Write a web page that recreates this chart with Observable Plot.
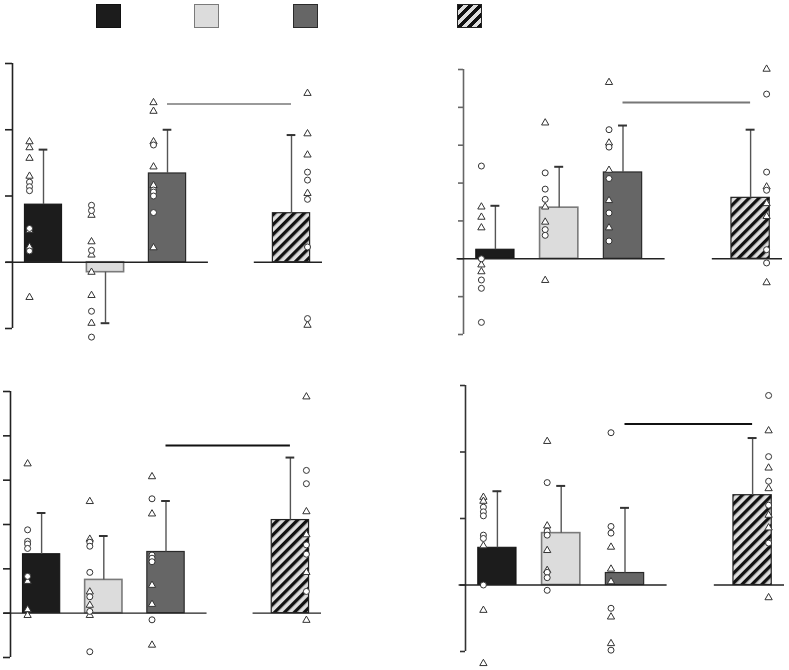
<!DOCTYPE html>
<html>
<head>
<meta charset="utf-8">
<script src="https://cdn.jsdelivr.net/npm/d3@7"></script>
<script src="https://cdn.jsdelivr.net/npm/@observablehq/plot@0.6"></script>
<style>
  html, body { margin: 0; padding: 0; background: #fff; }
  #root { position: relative; width: 789px; height: 670px; overflow: hidden; font-family: "DejaVu Sans", sans-serif; }
  .panel { position: absolute; }
  .key { position: absolute; top: 4px; width: 25px; height: 24px; box-sizing: border-box; }
</style>
</head>
<body>
<div id="root"></div>
<script>
// ---------------- DATA ----------------
const groups = ["g1", "g2", "g3", "g4"];

// Panel A (top-left)
const aMeans = [0.87, -0.15, 1.34, 0.74];
const aErrors = [0.83, 0.77, 0.66, 1.18];
const aSig = 2.39;
const aTicks = [-1, 0, 1, 2, 3];
const aTriangles = [
  [1.82, 1.73, 1.57, 1.30, 0.48, 0.23, -0.53],
  [0.71, 0.31, 0.11, -0.15, -0.50, -0.92],
  [2.41, 2.28, 1.82, 1.44, 1.16, 0.22],
  [2.55, 1.94, 1.62, 1.04, -0.95]
];
const aCircles = [
  [1.21, 1.14, 1.08, 0.51, 0.17],
  [0.86, 0.78, 0.18, -0.74, -1.13],
  [1.77, 1.09, 1.06, 1.00, 0.75],
  [1.36, 1.24, 0.95, 0.23, -0.85]
];

// Panel B (top-right)
const bMeans = [0.24, 1.35, 2.28, 1.61];
const bErrors = [1.16, 1.08, 1.24, 1.80];
const bSig = 4.13;
const bTicks = [-2, -1, 0, 1, 2, 3, 4, 5];
const bTriangles = [
  [1.37, 1.10, 0.82, -0.16, -0.34],
  [3.59, 1.37, 0.97, -0.57],
  [4.66, 3.06, 2.34, 1.54, 0.82],
  [5.01, 1.90, 1.46, 1.12, -0.63]
];
const bCircles = [
  [2.45, 0.00, -0.56, -0.78, -1.68],
  [2.27, 1.84, 1.57, 0.77, 0.62],
  [3.41, 2.95, 2.12, 1.21, 0.47],
  [4.35, 2.29, 1.81, 0.24, -0.11]
];

// Panel C (bottom-left)
const cMeans = [1.33, 0.75, 1.38, 2.10];
const cErrors = [0.93, 0.99, 1.15, 1.41];
const cSig = 3.78;
const cTicks = [-1, 0, 1, 2, 3, 4, 5];
const cTriangles = [
  [3.37, 0.72, 0.08, -0.05],
  [2.52, 1.67, 0.48, 0.18, -0.05],
  [3.08, 2.24, 0.63, 0.20, -0.72],
  [4.88, 2.29, 1.77, 0.92, -0.16]
];
const cCircles = [
  [1.88, 1.62, 1.56, 1.46, 0.83],
  [1.60, 1.51, 0.92, 0.37, 0.04, -0.87],
  [2.58, 1.31, 1.24, 1.16, -0.15],
  [3.22, 2.92, 1.54, 1.33, 0.49]
];

// Panel D (bottom-right)
const dMeans = [0.56, 0.78, 0.18, 1.35];
const dErrors = [0.85, 0.71, 0.98, 0.86];
const dSig = 2.42;
const dTicks = [-1, 0, 1, 2, 3];
const dTriangles = [
  [1.32, 1.26, 0.59, -0.38, -1.18],
  [2.16, 0.89, 0.52, 0.22],
  [0.57, 0.24, 0.05, -0.48, -0.88],
  [2.32, 1.76, 1.45, 1.05, 0.86, -0.19]
];
const dCircles = [
  [1.17, 1.10, 1.04, 0.75, 0.70, 0.00],
  [1.54, 0.81, 0.75, 0.19, 0.11, -0.08],
  [2.29, 0.88, 0.78, -0.35, -0.98],
  [2.85, 1.93, 1.56, 1.20, 0.63]
];

// ---------------- STYLES ----------------
const barStyles = [
  { fill: "#1c1c1c", stroke: "#111", strokeWidth: 1 },
  { fill: "#dcdcdc", stroke: "#7a7a7a", strokeWidth: 1.6 },
  { fill: "#666666", stroke: "#2a2a2a", strokeWidth: 1.2 },
  { fill: "HATCH", stroke: "#222", strokeWidth: 1.2 }
];

const layouts = [
  { left: 0,   top: 40,  width: 400, height: 300, ml: 12, mr: 78, mt: 23, mb: 12, axis: "#222", tick: 7, sigColor: "#9a9a9a" },
  { left: 400, top: 40,  width: 389, height: 300, ml: 63, mr: 7,  mt: 29, mb: 6,  axis: "#666", tick: 5, sigColor: "#777" },
  { left: 0,   top: 360, width: 400, height: 310, ml: 10, mr: 79, mt: 31, mb: 13, axis: "#222", tick: 7, sigColor: "#111" },
  { left: 400, top: 360, width: 389, height: 310, ml: 65, mr: 5,  mt: 25, mb: 19, axis: "#333", tick: 5, sigColor: "#111" }
];

const panels = [
  { means: aMeans, errors: aErrors, sig: aSig, ticks: aTicks, tri: aTriangles, circ: aCircles },
  { means: bMeans, errors: bErrors, sig: bSig, ticks: bTicks, tri: bTriangles, circ: bCircles },
  { means: cMeans, errors: cErrors, sig: cSig, ticks: cTicks, tri: cTriangles, circ: cCircles },
  { means: dMeans, errors: dErrors, sig: dSig, ticks: dTicks, tri: dTriangles, circ: dCircles }
];

// group slot on the x axis: three adjacent groups, a gap, then the fourth
const slot = groups.map((g, i) => i + 1 + (i === 3 ? 1 : 0));
const half = 0.3;

const root = document.getElementById("root");

function addHatch(svg, id) {
  const defs = d3.select(svg).insert("defs", ":first-child");
  const p = defs.append("pattern")
    .attr("id", id)
    .attr("patternUnits", "userSpaceOnUse")
    .attr("width", 7).attr("height", 7)
    .attr("patternTransform", "rotate(45)");
  p.append("rect").attr("width", 7).attr("height", 7).attr("fill", "#dddddd");
  p.append("rect").attr("width", 3.3).attr("height", 7).attr("fill", "#111");
}

panels.forEach((P, k) => {
  const L = layouts[k];
  const hatchId = "hatch" + k;
  const bars = groups.map((g, i) => ({
    group: g, i, pos: slot[i], mean: P.means[i],
    tip: P.means[i] + Math.sign(P.means[i] || 1) * P.errors[i]
  }));
  const pts = [];
  groups.forEach((g, i) => {
    P.tri[i].forEach(v => pts.push({ i, pos: slot[i], value: v, shape: "triangle" }));
    P.circ[i].forEach(v => pts.push({ i, pos: slot[i], value: v, shape: "circle" }));
  });
  const yMin = d3.min(P.ticks), yMax = d3.max(P.ticks);
  const base = [
    { x1: 0.4, x2: slot[2] + 0.66 },
    { x1: slot[3] - 0.6, x2: slot[3] + 0.5 }
  ];

  const marks = [
    Plot.ruleX([0.5], { y1: () => yMin, y2: () => yMax, stroke: L.axis, strokeWidth: 1.6 }),
    Plot.axisY({ ticks: P.ticks, tickSize: L.tick, tickFormat: () => "", stroke: L.axis, strokeWidth: 1.6, anchor: "left" }),
  ];
  bars.forEach((b, i) => {
    const st = barStyles[i];
    marks.push(Plot.rectY([b], {
      x1: d => d.pos - half, x2: d => d.pos + half, y1: () => 0, y2: "mean",
      fill: st.fill === "HATCH" ? `url(#${hatchId})` : st.fill,
      stroke: st.stroke, strokeWidth: st.strokeWidth
    }));
  });
  marks.push(
    Plot.ruleY(base, { y: () => 0, x1: "x1", x2: "x2", stroke: "#222", strokeWidth: 1.4 }),
    Plot.ruleX(bars, { x: "pos", y1: "mean", y2: "tip", stroke: "#555", strokeWidth: 1.4 }),
    Plot.ruleY(bars, { y: "tip", x1: d => d.pos - 0.07, x2: d => d.pos + 0.07, stroke: "#333", strokeWidth: 2 }),
    Plot.ruleY([P.sig], { y: d => d, x1: () => slot[2], x2: () => slot[3], stroke: L.sigColor, strokeWidth: 2 }),
    Plot.dot(pts.filter(d => d.i < 3 && d.shape === "triangle"), { x: "pos", y: "value", symbol: "triangle", r: 2.7, fill: "white", stroke: "#333", strokeWidth: 1, dx: -14 }),
    Plot.dot(pts.filter(d => d.i < 3 && d.shape === "circle"), { x: "pos", y: "value", symbol: "circle", r: 3, fill: "white", stroke: "#333", strokeWidth: 1, dx: -14 }),
    Plot.dot(pts.filter(d => d.i === 3 && d.shape === "triangle"), { x: "pos", y: "value", symbol: "triangle", r: 2.7, fill: "white", stroke: "#333", strokeWidth: 1, dx: 16 }),
    Plot.dot(pts.filter(d => d.i === 3 && d.shape === "circle"), { x: "pos", y: "value", symbol: "circle", r: 3, fill: "white", stroke: "#333", strokeWidth: 1, dx: 16 })
  );

  const svg = Plot.plot({
    width: L.width, height: L.height,
    marginLeft: L.ml, marginRight: L.mr, marginTop: L.mt, marginBottom: L.mb,
    x: { domain: [0.5, 5.5], axis: null },
    y: { domain: [yMin, yMax], axis: null },
    style: { background: "transparent", overflow: "visible" },
    marks
  });
  addHatch(svg, hatchId);
  const wrap = document.createElement("div");
  wrap.className = "panel";
  wrap.style.left = L.left + "px";
  wrap.style.top = L.top + "px";
  wrap.appendChild(svg);
  root.appendChild(wrap);
});

// ---------------- LEGEND (unlabelled keys) ----------------
const keyLeft = [96, 194, 293, 457];
groups.forEach((g, i) => {
  const st = barStyles[i];
  const el = document.createElement("div");
  el.className = "key";
  el.style.left = keyLeft[i] + "px";
  el.style.border = `${Math.max(1, st.strokeWidth)}px solid ${st.stroke}`;
  if (st.fill === "HATCH") {
    el.style.background = "repeating-linear-gradient(-45deg, #111 0px, #111 3.3px, #dddddd 3.3px, #dddddd 7px)";
  } else {
    el.style.background = st.fill;
  }
  root.appendChild(el);
});
</script>
</body>
</html>
